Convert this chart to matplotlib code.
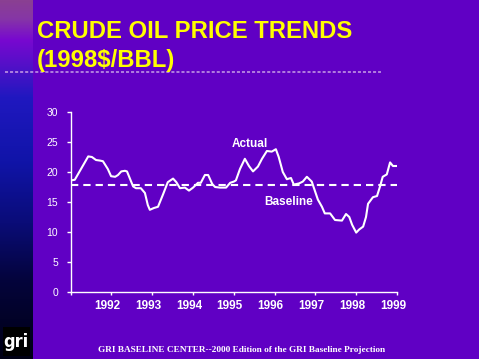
import numpy as np
import matplotlib
matplotlib.use("Agg")
import matplotlib.pyplot as plt
import matplotlib.transforms as mtransforms
from matplotlib.colors import LinearSegmentedColormap
from matplotlib.lines import Line2D

# Actual crude oil price (1998$/BBL)
years = [1991.00, 1991.10, 1991.43, 1991.52, 1991.62, 1991.72, 1991.79, 1991.91,
         1991.99, 1992.09, 1992.16, 1992.24, 1992.33, 1992.38, 1992.53, 1992.60,
         1992.72, 1992.82, 1992.89, 1992.94, 1993.04, 1993.14, 1993.26, 1993.38,
         1993.51, 1993.59, 1993.68, 1993.80, 1993.90, 1994.00, 1994.12, 1994.19,
         1994.29, 1994.37, 1994.47, 1994.54, 1994.66, 1994.81, 1994.91, 1995.00,
         1995.05, 1995.15, 1995.27, 1995.37, 1995.47, 1995.59, 1995.69, 1995.81,
         1995.93, 1996.03, 1996.10, 1996.20, 1996.30, 1996.40, 1996.47, 1996.60,
         1996.69, 1996.79, 1996.91, 1997.06, 1997.16, 1997.23, 1997.36, 1997.48,
         1997.65, 1997.75, 1997.83, 1997.90, 1998.00, 1998.07, 1998.17, 1998.24,
         1998.29, 1998.41, 1998.51, 1998.58, 1998.65, 1998.75, 1998.83, 1998.90,
         1999.00]
prices = [18.6, 18.7, 22.6, 22.5, 22.0, 21.9, 21.8, 20.5,
          19.3, 19.2, 19.5, 20.1, 20.2, 20.1, 17.6, 17.3,
          17.3, 16.5, 14.5, 13.7, 14.0, 14.2, 16.2, 18.3,
          18.9, 18.3, 17.3, 17.4, 16.9, 17.4, 18.2, 18.2,
          19.5, 19.5, 18.0, 17.5, 17.4, 17.4, 18.2, 18.4,
          18.6, 20.5, 22.2, 21.0, 20.1, 20.9, 22.2, 23.5,
          23.4, 23.8, 22.5, 20.0, 18.8, 19.0, 17.9, 18.1,
          18.4, 19.2, 18.4, 15.4, 14.2, 13.1, 13.1, 12.0,
          11.9, 13.0, 12.5, 11.2, 9.9, 10.4, 10.9, 12.5,
          14.7, 15.8, 16.0, 17.5, 19.2, 19.6, 21.6, 21.0,
          21.0]
baseline = 17.8
tick_years = [1991, 1992, 1993, 1994, 1995, 1996, 1997, 1998, 1999]
tick_labels = ["", "1992", "1993", "1994", "1995", "1996", "1997", "1998", "1999"]

bg = "#6000c4"
W, H = 479, 359
fig = plt.figure(figsize=(W / 100, H / 100), dpi=100, facecolor=bg)

# gradient strip on the left
strip = fig.add_axes([0, 0, 33 / W, 1])
stops = [(0.0, "#8a4092"), (0.05, "#8636a6"), (0.11, "#7808d0"), (0.18, "#5410c8"),
         (0.27, "#2018c0"), (0.45, "#1014a8"), (0.62, "#0a0c78"), (0.78, "#04043c"),
         (1.0, "#000014")]
cmap = LinearSegmentedColormap.from_list("strip", stops)
strip.imshow(np.linspace(0, 1, 256).reshape(-1, 1), aspect="auto", cmap=cmap,
             extent=[0, 1, 0, 1], origin="upper")
strip.set_axis_off()

# logo
fig.patches.append(plt.Rectangle((3 / W, 3 / H), 27 / W, 29 / H, transform=fig.transFigure,
                                 facecolor="black", edgecolor="none", zorder=5))
fig.text(16 / W, 17 / H, "gri", color="white", fontsize=13, ha="center", va="center",
         family="DejaVu Sans", fontstretch="condensed", fontweight="bold", zorder=6)

# title
fig.text(37 / W, 1 - 38.5 / H, "CRUDE OIL PRICE TRENDS", color="#ffff00", fontsize=17.2,
         fontweight="bold", family="Liberation Sans", va="baseline")
fig.text(37 / W, 1 - 66.5 / H, "(1998$/BBL)", color="#ffff00", fontsize=17.2,
         fontweight="bold", family="Liberation Sans", va="baseline")
fig.lines.append(Line2D([5 / W, 381 / W], [1 - 71.7 / H] * 2, transform=fig.transFigure,
                        color="#c8a0e6", lw=1.1, dashes=(2.0, 1.3)))

# chart
ax = fig.add_axes([70.7 / W, 1 - 292 / H, (397 - 70.7) / W, (292 - 112) / H])
ax.set_facecolor(bg)
ax.plot(years, prices, color="white", lw=1.5, solid_joinstyle="round")
ax.axhline(baseline, color="white", lw=1.5, dashes=(3.5, 2.4))
ax.set_xlim(1991, 1999)
ax.set_ylim(0, 30)
ax.set_yticks(range(0, 31, 5))
ax.set_xticks(tick_years)
ax.set_xticklabels(tick_labels)
for s in ["top", "right"]:
    ax.spines[s].set_visible(False)
for s in ["left", "bottom"]:
    ax.spines[s].set_color("white")
    ax.spines[s].set_linewidth(1.0)
ax.tick_params(axis="y", colors="white", length=3, width=1, pad=6, labelsize=7.5)
ax.tick_params(axis="x", colors="white", length=2.5, width=1, pad=3.5, labelsize=8.5)
for lab in ax.get_yticklabels():
    lab.set_family("Liberation Sans")
offset = mtransforms.ScaledTranslation(-4 / 100, 0, fig.dpi_scale_trans)
for lab in ax.get_xticklabels():
    lab.set_family("Liberation Sans")
    lab.set_fontweight("bold")
    lab.set_transform(lab.get_transform() + offset)

ax.text(1995.39, 24.7, "Actual", color="white", fontsize=8.5, fontweight="bold",
        family="Liberation Sans", ha="center", va="center")
ax.text(1996.35, 15.0, "Baseline", color="white", fontsize=8.5, fontweight="bold",
        family="Liberation Sans", ha="center", va="center")

# footer
fig.text(242 / W, 1 - 352 / H, "GRI BASELINE CENTER--2000 Edition of the GRI Baseline Projection",
         color="white", fontsize=6.7, fontweight="bold", family="Liberation Serif",
         ha="center", va="baseline")

fig.savefig("out.png", dpi=100, facecolor=bg)
